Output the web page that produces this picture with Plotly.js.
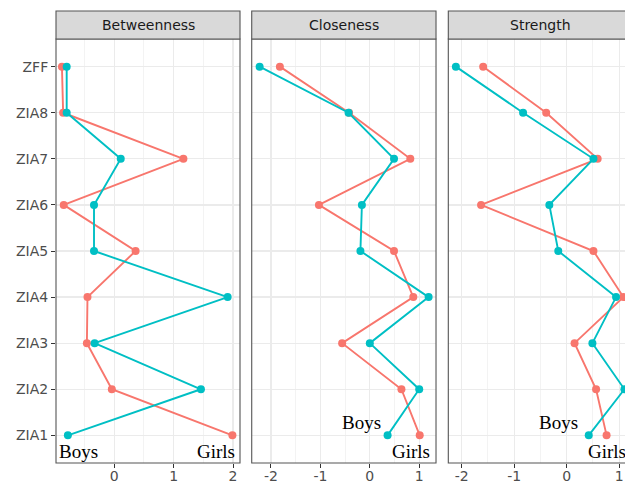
<!DOCTYPE html>
<html>
<head>
<meta charset="utf-8">
<script src="https://cdn.plot.ly/plotly-3.0.1.min.js"></script>
<style>
html,body{margin:0;padding:0;overflow:hidden;background:#fff;}
#chart{width:640px;height:483px;}
</style>
</head>
<body>
<div id="chart"></div>
<script>
// Data (bottom to top)
const nodes = ["ZIA1","ZIA2","ZIA3","ZIA4","ZIA5","ZIA6","ZIA7","ZIA8","ZFF"];
const panels = ["Betweenness","Closeness","Strength"];
const seriesNames = ["Girls","Boys"];

const betweennessRed  = [1.99, -0.04, -0.46, -0.45, 0.36, -0.85, 1.165, -0.86, -0.88];
const betweennessTeal = [-0.78, 1.46, -0.33, 1.91, -0.34, -0.34, 0.11, -0.80, -0.80];

const closenessRed  = [1.01, 0.64, -0.56, 0.88, 0.49, -1.03, 0.82, -0.42, -1.82];
const closenessTeal = [0.36, 1.00, 0.00, 1.19, -0.19, -0.16, 0.49, -0.43, -2.23];

const strengthRed  = [0.76, 0.56, 0.15, 1.08, 0.51, -1.63, 0.59, -0.39, -1.59];
const strengthTeal = [0.42, 1.10, 0.49, 0.94, -0.16, -0.33, 0.51, -0.83, -2.11];

// Tick values and labels (ASCII hyphen as in the reference)
const betweennessTicks = [0, 1, 2];
const betweennessTickText = ["0", "1", "2"];
const centralityTicks = [-2, -1, 0, 1];
const centralityTickText = ["-2", "-1", "0", "1"];

const redColor = "#F8766D", tealColor = "#00BFC4";

function tr(x, color, xa, name){
  return {
    type:"scatter", mode:"lines+markers", x:x, y:nodes, xaxis:xa, yaxis:"y",
    name:name, showlegend:false,
    line:{color:color, width:1.9},
    marker:{color:color, size:8}
  };
}

const data = [
  tr(betweennessRed, redColor, "x", seriesNames[0]),
  tr(betweennessTeal, tealColor, "x", seriesNames[1]),
  tr(closenessRed, redColor, "x2", seriesNames[0]),
  tr(closenessTeal, tealColor, "x2", seriesNames[1]),
  tr(strengthRed, redColor, "x3", seriesNames[0]),
  tr(strengthTeal, tealColor, "x3", seriesNames[1])
];

const tickFont = {family:"DejaVu Sans, sans-serif", size:14, color:"#4D4D4D"};
function xax(domain, range, tv, tt){
  return {
    domain:domain, range:range, anchor:"y",
    tickmode:"array", tickvals:tv, ticktext:tt,
    showgrid:true, gridcolor:"#EBEBEB", gridwidth:1.2,
    minor:{tickmode:"linear", dtick:0.5, tick0:0, showgrid:true, gridcolor:"#F0F0F0", gridwidth:0.8},
    zeroline:false, showline:false,
    ticks:"outside", ticklen:4, tickcolor:"#333333", tickwidth:1,
    ticklabelstandoff:-4,
    tickfont:tickFont, fixedrange:true
  };
}

const layout = {
  width:640, height:483,
  margin:{l:56, r:7, t:39, b:20},
  paper_bgcolor:"#ffffff", plot_bgcolor:"#ffffff",
  xaxis: xax([0, 0.3189], [-0.98, 2.118], betweennessTicks, betweennessTickText),
  xaxis2: xax([0.3392, 0.6586], [-2.39, 1.34], centralityTicks, centralityTickText),
  xaxis3: xax([0.6799, 1], [-2.254, 1.263], centralityTicks, centralityTickText),
  yaxis:{
    type:"category", categoryorder:"array", categoryarray:nodes,
    range:[-0.6, 8.6], anchor:"x",
    showgrid:true, gridcolor:"#EBEBEB", gridwidth:1.2,
    zeroline:false, showline:false,
    ticks:"outside", ticklen:4, tickcolor:"#333333", tickwidth:1,
    tickfont:tickFont, fixedrange:true
  },
  shapes:[], annotations:[]
};

const xas = ["x","x2","x3"];
xas.forEach((xa, i) => {
  layout.shapes.push({type:"rect", xref:xa+" domain", yref:"y domain", x0:0, x1:1, y0:0, y1:1,
    line:{color:"#555555", width:1.1}, fillcolor:"rgba(0,0,0,0)", layer:"above"});
  layout.shapes.push({type:"rect", xref:xa+" domain", yref:"y domain", x0:0, x1:1, y0:1, y1:1.066,
    line:{color:"#555555", width:1.1}, fillcolor:"#D9D9D9", layer:"above"});
  layout.annotations.push({xref:xa+" domain", yref:"y domain", x:0.5, y:1.033, text:panels[i],
    showarrow:false, xanchor:"center", yanchor:"middle",
    font:{family:"DejaVu Sans, sans-serif", size:14, color:"#1A1A1A"}});
});

// Boys / Girls labels
const labelFont = {family:"Liberation Serif, Times New Roman, serif", size:19, color:"#000000"};
const labelPos = [
  ["x", -0.6, -0.36, "Boys"], ["x", 1.71, -0.36, "Girls"],
  ["x2", -0.17, 0.27, "Boys"], ["x2", 0.83, -0.36, "Girls"],
  ["x3", -0.16, 0.27, "Boys"], ["x3", 0.77, -0.36, "Girls"]
];
labelPos.forEach(p => {
  layout.annotations.push({xref:p[0], yref:"y", x:p[1], y:p[2], text:p[3], showarrow:false,
    xanchor:"center", yanchor:"middle", font:labelFont});
});

Plotly.newPlot("chart", data, layout, {staticPlot:true, displayModeBar:false});
</script>
</body>
</html>
